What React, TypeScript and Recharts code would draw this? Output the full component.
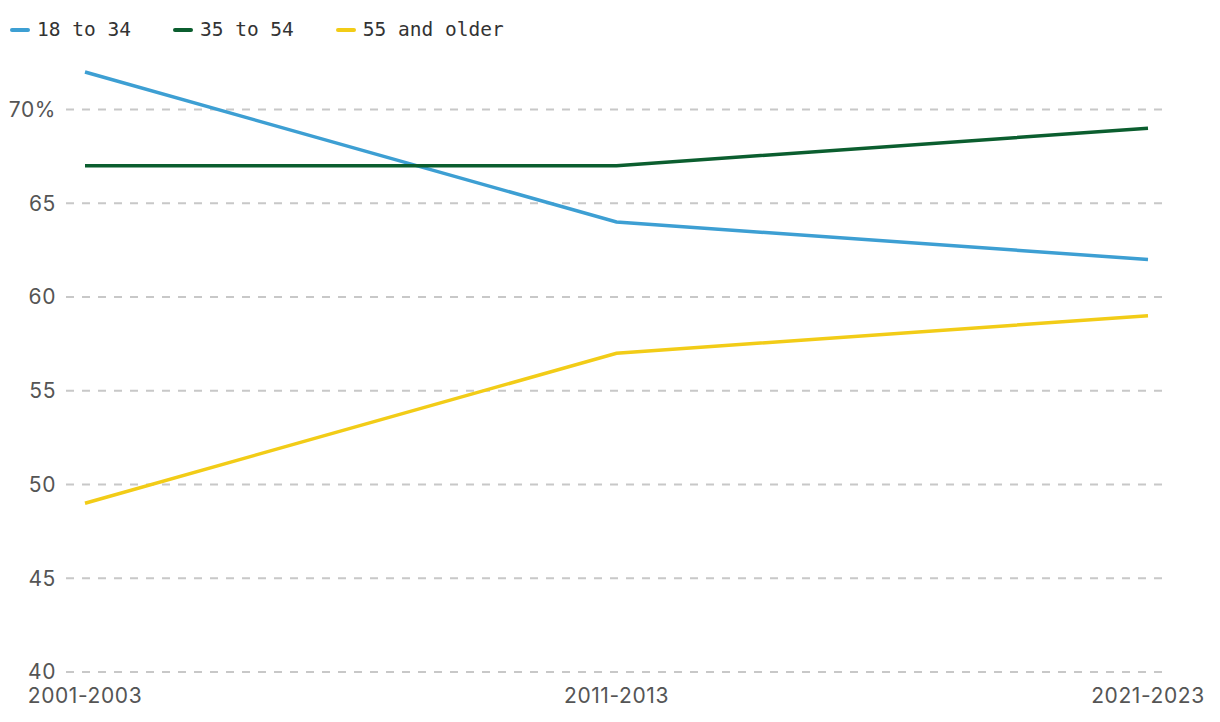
import { LineChart, Line, XAxis, YAxis, CartesianGrid } from "recharts";

const periods = ["2001-2003", "2011-2013", "2021-2023"];
const young = [72, 64, 62];
const middle = [67, 67, 69];
const older = [49, 57, 59];
const yTicks = [40, 45, 50, 55, 60, 65, 70];

const series = [
  { key: "18 to 34", color: "#3d9fd3" },
  { key: "35 to 54", color: "#0b5e2f" },
  { key: "55 and older", color: "#f2cc17" },
];

const data = periods.map((p, i) => ({
  period: p,
  "18 to 34": young[i],
  "35 to 54": middle[i],
  "55 and older": older[i],
}));

const tickFont = {
  fill: "#555",
  fontSize: 21,
  letterSpacing: 0.6,
  fontFamily: "Inter, 'Liberation Sans', sans-serif",
};

function LegendRow() {
  return (
    <div
      style={{
        position: "absolute",
        left: 10,
        top: 18,
        display: "flex",
        gap: 42,
        alignItems: "center",
      }}
    >
      {series.map((s) => (
        <div key={s.key} style={{ display: "flex", alignItems: "center", gap: 7 }}>
          <span
            style={{
              display: "inline-block",
              width: 20,
              height: 4,
              borderRadius: 2,
              background: s.color,
            }}
          />
          <span
            style={{
              fontFamily: "'DejaVu Sans Mono', monospace",
              fontSize: 19.5,
              color: "#333",
              lineHeight: "24px",
            }}
          >
            {s.key}
          </span>
        </div>
      ))}
    </div>
  );
}

export default function App() {
  return (
    <div style={{ position: "absolute", left: 0, top: 0, width: 1220, height: 722, background: "#fff" }}>
      <LineChart
        width={1220}
        height={722}
        data={data}
        margin={{ top: 72, right: 58, bottom: 20, left: 0 }}
      >
        <CartesianGrid
          vertical={false}
          horizontalValues={yTicks}
          stroke="#c8c8c8"
          strokeWidth={2}
          strokeDasharray="8 8"
        />
        <XAxis
          dataKey="period"
          height={30}
          axisLine={false}
          tickLine={false}
          tickSize={0}
          tickMargin={16}
          padding={{ left: 19, right: 14 }}
          tick={tickFont}
          interval={0}
        />
        <YAxis
          domain={[40, 72]}
          ticks={yTicks}
          width={66}
          axisLine={false}
          tickLine={false}
          tickSize={0}
          tickMargin={10}
          tick={tickFont}
          tickFormatter={(v) => (v === 70 ? "70%" : String(v))}
        />
        {series.map((s) => (
          <Line
            key={s.key}
            type="linear"
            dataKey={s.key}
            stroke={s.color}
            strokeWidth={3.5}
            dot={false}
            activeDot={false}
            isAnimationActive={false}
          />
        ))}
      </LineChart>
      <LegendRow />
    </div>
  );
}
